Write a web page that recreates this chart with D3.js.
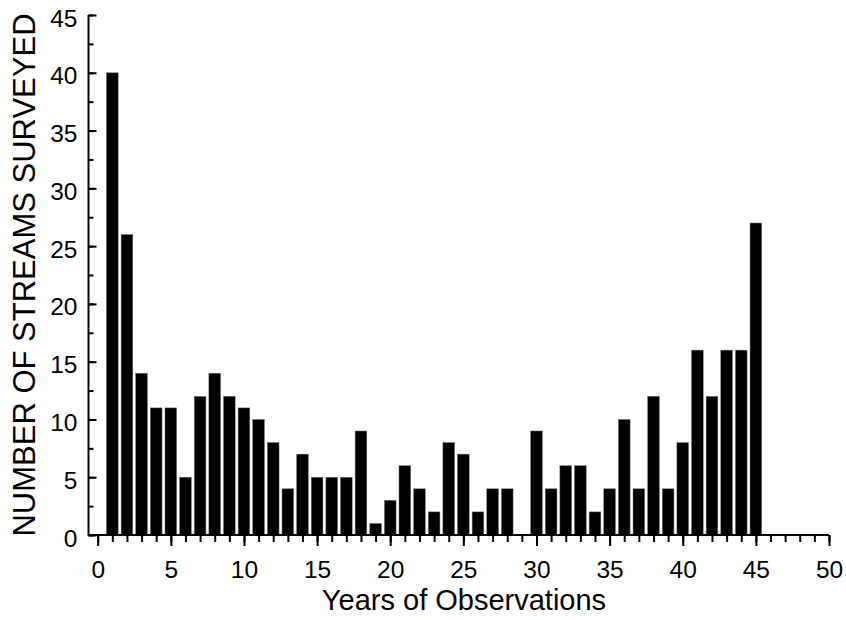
<!DOCTYPE html>
<html>
<head>
<meta charset="utf-8">
<script src="https://d3js.org/d3.v7.min.js"></script>
<style>
body { margin: 0; background: #fff; }
text { font-family: "Liberation Sans", Arial, sans-serif; fill: #000; }
.axis text { font-size: 24.5px; }
.axis line { stroke: #000; stroke-width: 2px; }
.axis path { display: none; }
</style>
</head>
<body>
<div id="chart"></div>
<script>
// years of observation (1..45) and number of streams per year
var years = d3.range(1, 46);
var streams = [40, 26, 14, 11, 11, 5, 12, 14, 12, 11,
               10, 8, 4, 7, 5, 5, 5, 9, 1, 3,
               6, 4, 2, 8, 7, 2, 4, 4, 0, 9,
               4, 6, 6, 2, 4, 10, 4, 12, 4, 8,
               16, 12, 16, 16, 27];
var xTicks = [0, 5, 10, 15, 20, 25, 30, 35, 40, 45, 50];
var yTicks = [0, 5, 10, 15, 20, 25, 30, 35, 40, 45];

var width = 846, height = 620;
var svg = d3.select("#chart").append("svg")
  .attr("width", width).attr("height", height);

var x = d3.scaleLinear().domain([0, 50]).range([97.7, 829]);
var y = d3.scaleLinear().domain([0, 45]).range([535, 15]);
var axisX = 88.5;

var bw = (x(1) - x(0)) * 0.8;

svg.append("g").selectAll("rect")
  .data(years)
  .enter().append("rect")
  .attr("x", function(d) { return x(d) - bw / 2; })
  .attr("y", function(d, i) { return y(streams[i]); })
  .attr("width", bw)
  .attr("height", function(d, i) { return y(0) - y(streams[i]); })
  .attr("fill", "#000")
  .attr("stroke", "#777")
  .attr("stroke-width", 0.5);

// minor ticks
svg.append("g").attr("class", "axis")
  .attr("transform", "translate(0," + y(0) + ")")
  .call(d3.axisBottom(x).tickValues(d3.range(0, 51)).tickSize(7).tickFormat(""));
svg.append("g").attr("class", "axis")
  .attr("transform", "translate(" + axisX + ",0)")
  .call(d3.axisLeft(y).tickValues(d3.range(0, 46, 2.5)).tickSize(-5).tickFormat(""));

// major ticks
svg.append("g").attr("class", "axis")
  .attr("transform", "translate(0," + y(0) + ")")
  .call(d3.axisBottom(x).tickValues(xTicks).tickSize(11).tickPadding(15).tickFormat(d3.format("d")));
svg.append("g").attr("class", "axis")
  .attr("transform", "translate(" + axisX + ",0)")
  .call(d3.axisLeft(y).tickValues(yTicks).tickSize(-8).tickPadding(11).tickFormat(d3.format("d")))
  .selectAll("text").attr("dy", "0.45em");

// axis lines
svg.append("line")
  .attr("x1", axisX).attr("x2", x(50))
  .attr("y1", y(0)).attr("y2", y(0))
  .attr("stroke", "#000").attr("stroke-width", 2);
svg.append("line")
  .attr("x1", axisX).attr("x2", axisX)
  .attr("y1", y(45)).attr("y2", y(0) + 1)
  .attr("stroke", "#000").attr("stroke-width", 2);

svg.append("text")
  .attr("x", 464).attr("y", 610)
  .attr("text-anchor", "middle")
  .style("font-size", "29px")
  .text("Years of Observations");

svg.append("text")
  .attr("transform", "translate(35," + ((y(45) + y(0)) / 2) + ") rotate(-90)")
  .attr("text-anchor", "middle")
  .style("font-size", "31px")
  .text("NUMBER OF STREAMS SURVEYED");
</script>
</body>
</html>
